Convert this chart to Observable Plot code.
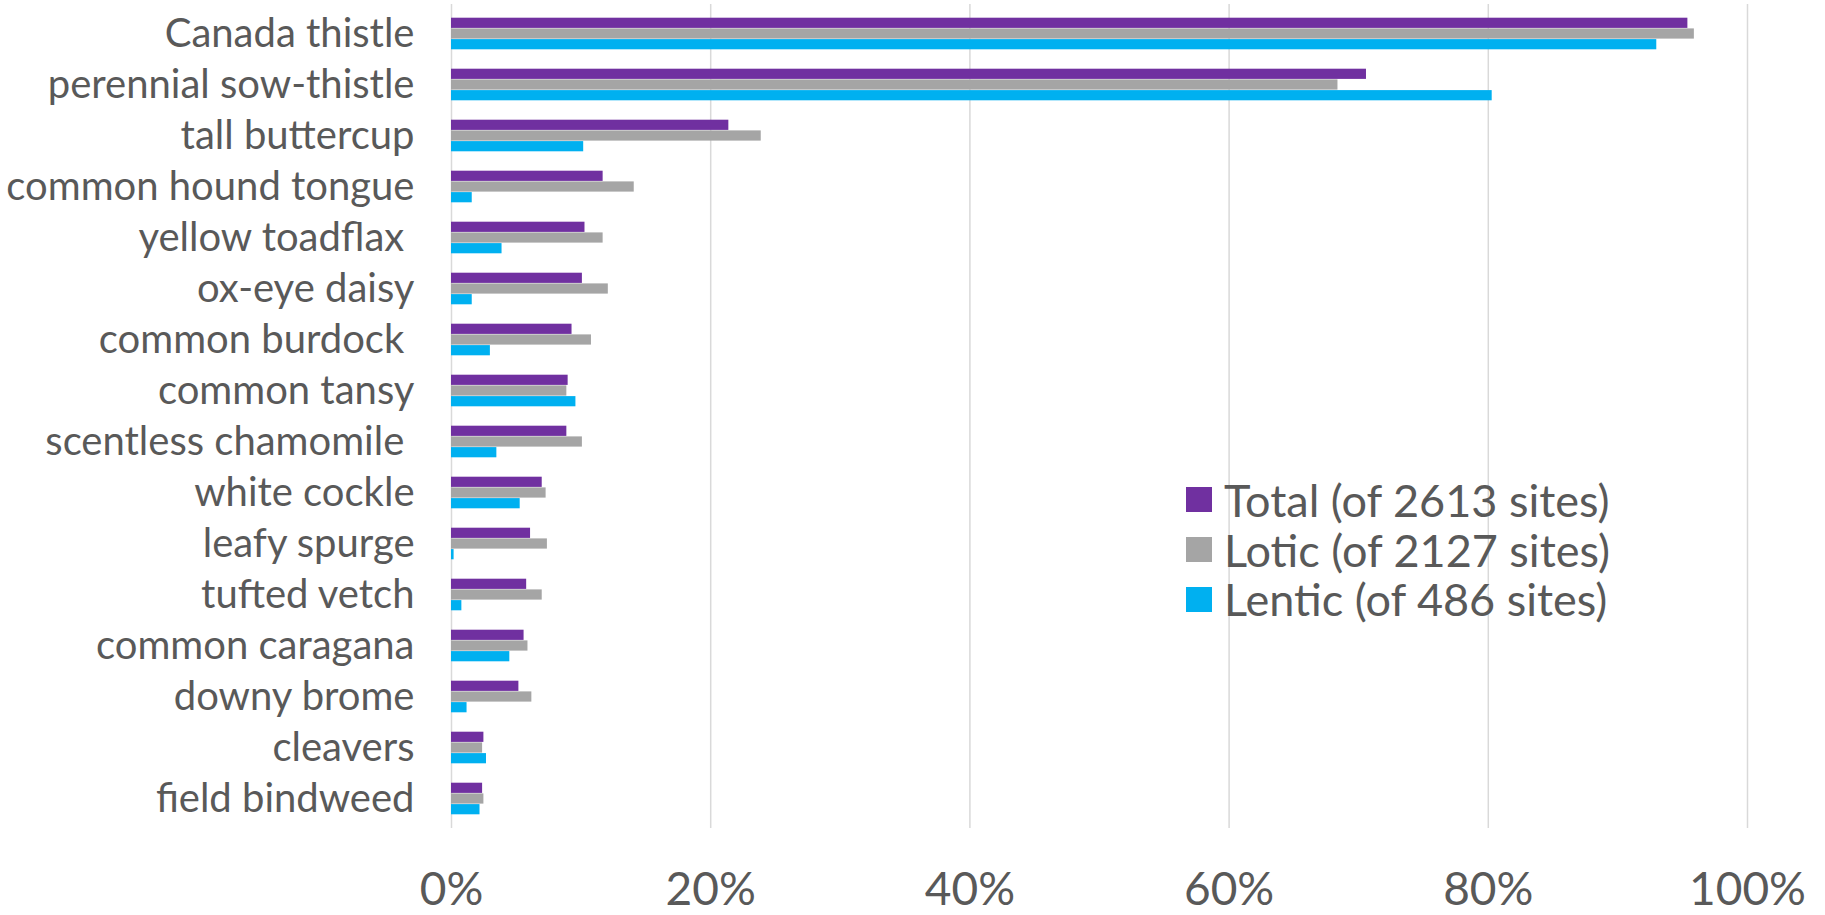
<!DOCTYPE html>
<html>
<head>
<meta charset="utf-8">
<script src="https://cdn.jsdelivr.net/npm/d3@7"></script>
<script src="https://cdn.jsdelivr.net/npm/@observablehq/plot@0.6"></script>
<style>
  body { margin: 0; background: #fff; }
  #wrap { position: relative; width: 1825px; height: 915px; }
  #legend { position: absolute; left: 1186px; top: 475px; font-family: Lato, sans-serif; font-size: 45px; color: #595959; }
  #legend .row { display: flex; align-items: center; height: 49.7px; white-space: nowrap; }
  #legend .sw { width: 26px; height: 25px; margin-right: 12px; flex: none; }
</style>
</head>
<body>
<div id="wrap"><div id="legend"></div></div>
<script>
const categories = ["Canada thistle", "perennial sow-thistle", "tall buttercup", "common hound tongue",
  "yellow toadflax\u00a0", "ox-eye daisy", "common burdock\u00a0", "common tansy", "scentless chamomile\u00a0",
  "white cockle", "leafy spurge", "tufted vetch", "common caragana", "downy brome", "cleavers", "field bindweed"];
const series = ["Total (of 2613 sites)", "Lotic (of 2127 sites)", "Lentic (of 486 sites)"];
const colors = ["#7030A0", "#A5A5A5", "#00B0F0"];
const totalValues  = [95.4, 70.6, 21.4, 11.7, 10.3, 10.1, 9.3, 9.0, 8.9, 7.0, 6.1, 5.8, 5.6, 5.2, 2.5, 2.4];
const loticValues  = [95.9, 68.4, 23.9, 14.1, 11.7, 12.1, 10.8, 8.9, 10.1, 7.3, 7.4, 7.0, 5.9, 6.2, 2.4, 2.5];
const lenticValues = [93.0, 80.3, 10.2, 1.6, 3.9, 1.6, 3.0, 9.6, 3.5, 5.3, 0.2, 0.8, 4.5, 1.2, 2.7, 2.2];
const xTicks = [0, 20, 40, 60, 80, 100];

const valueSets = [totalValues, loticValues, lenticValues];
const rows = valueSets.map(vals => categories.map((c, i) => ({category: c, value: vals[i]})));

const W = 1825, H = 915, mTop = 4, mBottom = 87;
// three stacked thin bars inside each category band
const bw = (H - mTop - mBottom) / categories.length, barH = 10.7, gap = (bw - 3 * barH) / 2;
const barMarks = rows.map((data, k) => Plot.barX(data, {
  x: "value", y: "category", fill: colors[k],
  insetTop: gap + k * barH, insetBottom: bw - gap - (k + 1) * barH
}));

const chart = Plot.plot({
  width: W, height: H,
  marginLeft: 451, marginRight: 78, marginTop: mTop, marginBottom: mBottom,
  style: {fontFamily: "Lato, sans-serif", color: "#595959", background: "#fff"},
  x: {domain: [0, 100], label: null},
  y: {domain: categories, padding: 0, label: null},
  marks: [
    Plot.ruleX(xTicks, {stroke: "#d9d9d9", strokeWidth: 1.5}),
    ...barMarks,
    Plot.axisX({ticks: xTicks, tickFormat: d => d + "%", tickSize: 0, tickPadding: 44, fontSize: 46, label: null}),
    Plot.axisY({tickSize: 0, tickPadding: 37, fontSize: 40, label: null})
  ]
});
document.getElementById("wrap").prepend(chart);

const legend = document.getElementById("legend");
series.forEach((s, k) => {
  const row = document.createElement("div");
  row.className = "row";
  const sw = document.createElement("span");
  sw.className = "sw"; sw.style.background = colors[k];
  const t = document.createElement("span");
  t.textContent = s;
  row.append(sw, t);
  legend.append(row);
});
</script>
</body>
</html>
